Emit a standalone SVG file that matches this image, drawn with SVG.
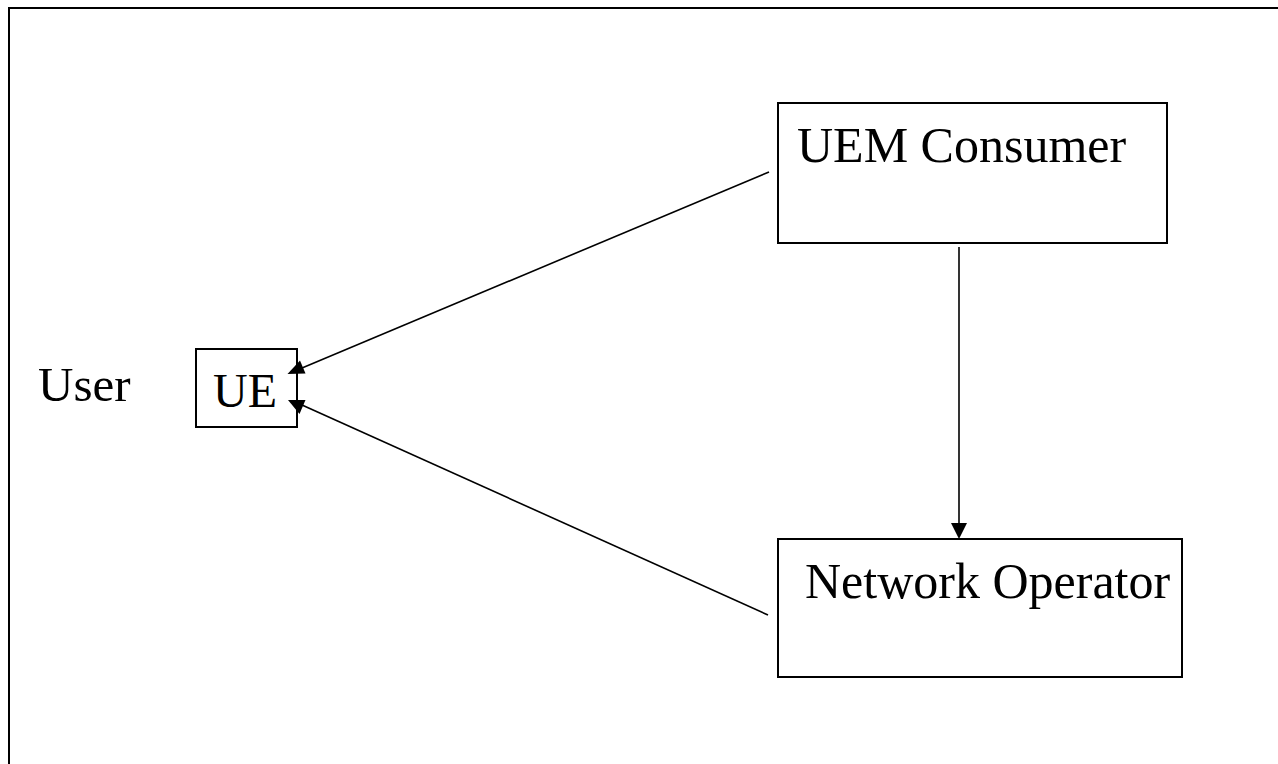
<svg xmlns="http://www.w3.org/2000/svg" width="1278" height="764" viewBox="0 0 1278 764">
<style>
.box{fill:#fff;stroke:#000;stroke-width:2}
.lbl{font-family:'Liberation Serif','DejaVu Serif',serif;fill:#000}
.conn{stroke:#000;stroke-width:1.6;fill:none}
.head{fill:#000;stroke:none}
</style>
<rect x="0" y="0" width="1278" height="764" fill="#fff"/>
<rect id="frame" x="9" y="8" width="1290" height="790" fill="none" stroke="#000" stroke-width="2"/>
<g id="user">
<text class="lbl" x="38" y="401" font-size="49" font-family="Liberation Serif, serif">User</text>
</g>
<g id="ue">
<rect class="box" x="196" y="349" width="101" height="78"/>
<text class="lbl" x="213" y="407" font-size="48" font-family="Liberation Serif, serif">UE</text>
</g>
<g id="uem-consumer">
<rect class="box" x="778" y="103" width="389" height="140"/>
<text class="lbl" x="797" y="162" font-size="50" font-family="Liberation Serif, serif">UEM Consumer</text>
</g>
<g id="network-operator">
<rect class="box" x="778" y="539" width="404" height="138"/>
<text class="lbl" x="805" y="598" font-size="50" font-family="Liberation Serif, serif">Network Operator</text>
</g>
<g id="connectors">
<line class="conn" x1="769" y1="172" x2="302" y2="368"/>
<polygon class="head" points="287.5,374 300,360.5 305.5,373.5"/>
<line class="conn" x1="768" y1="615" x2="302" y2="405"/>
<polygon class="head" points="288,400 305.5,400 299.5,414"/>
<line class="conn" x1="959" y1="247" x2="959" y2="525"/>
<polygon class="head" points="951,523 967,523 959,539"/>
</g>
</svg>
